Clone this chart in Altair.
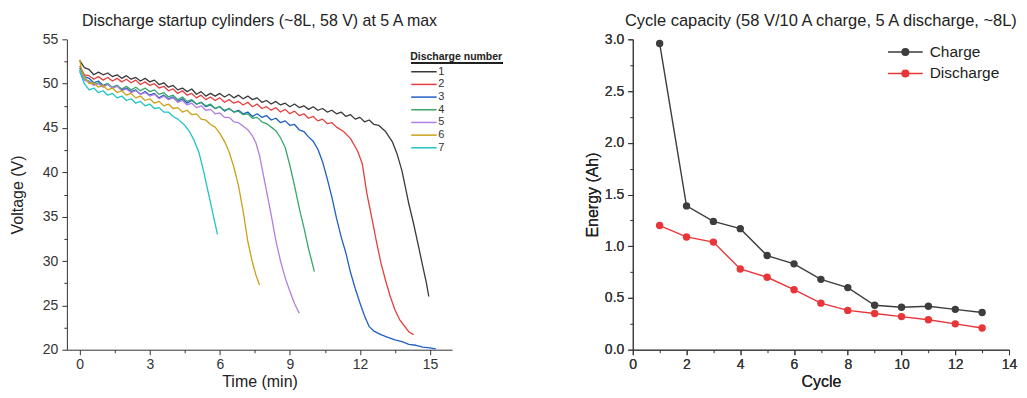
import altair as alt
import pandas as pd

FONT = "Liberation Sans"

# ---------------- left panel data: discharge curves ----------------
t1 = [0, 0.2, 0.4, 0.6, 0.8, 1.0, 1.2, 1.4, 1.6, 1.8, 2.0, 2.2, 2.4, 2.6, 2.8, 3.0, 3.2, 3.4, 3.6, 3.8,
      4.0, 4.2, 4.4, 4.6, 4.8, 5.0, 5.2, 5.4, 5.6, 5.8, 6.0, 6.2, 6.4, 6.6, 6.8, 7.0, 7.2, 7.4, 7.6, 7.8,
      8.0, 8.2, 8.4, 8.6, 8.8, 9.0, 9.2, 9.4, 9.6, 9.8, 10.0, 10.2, 10.4, 10.6, 10.8, 11.0, 11.2, 11.4,
      11.6, 11.8, 12.0, 12.2, 12.4, 12.6, 12.8, 13.1, 13.4, 13.6, 13.8, 13.95, 14.1, 14.3, 14.5, 14.7,
      14.85, 14.95]
v1 = [52.6, 51.8, 51.6, 51.0, 51.3, 51.0, 51.2, 50.8, 51.0, 50.6, 50.9, 50.5, 50.7, 50.3, 50.6, 50.2,
      50.4, 49.9, 50.1, 49.6, 49.8, 49.3, 49.5, 49.1, 49.4, 48.8, 49.1, 48.6, 48.9, 48.6, 48.9, 48.5,
      48.8, 48.4, 48.7, 48.3, 48.6, 48.2, 48.4, 47.9, 48.1, 47.7, 48.0, 47.6, 47.8, 47.4, 47.7, 47.3,
      47.5, 47.1, 47.4, 47.0, 47.2, 46.8, 47.0, 46.6, 46.8, 46.3, 46.5, 46.0, 46.2, 45.7, 45.9, 45.4,
      45.3, 44.6, 43.4, 42.0, 40.2, 38.3, 36.4, 34.2, 31.8, 29.3, 27.5, 26.0]

t2 = [0, 0.2, 0.4, 0.6, 0.8, 1.0, 1.2, 1.4, 1.6, 1.8, 2.0, 2.2, 2.4, 2.6, 2.8, 3.0, 3.2, 3.4, 3.6, 3.8,
      4.0, 4.2, 4.4, 4.6, 4.8, 5.0, 5.2, 5.4, 5.6, 5.8, 6.0, 6.2, 6.4, 6.6, 6.8, 7.0, 7.2, 7.4, 7.6, 7.8,
      8.0, 8.2, 8.4, 8.6, 8.8, 9.0, 9.2, 9.4, 9.6, 9.8, 10.0, 10.2, 10.4, 10.6, 10.8, 11.0, 11.3, 11.6,
      11.9, 12.1, 12.3, 12.5, 12.7, 12.9, 13.1, 13.3, 13.5, 13.7, 13.9, 14.1, 14.3]
v2 = [52.0, 51.0, 50.9, 50.5, 50.8, 50.4, 50.7, 50.3, 50.6, 50.2, 50.5, 50.1, 50.4, 49.9, 50.2, 49.8,
      50.0, 49.5, 49.7, 49.2, 49.4, 48.9, 49.2, 48.7, 48.9, 48.4, 48.7, 48.2, 48.5, 48.1, 48.4, 47.9,
      48.2, 47.8, 48.0, 47.6, 47.9, 47.4, 47.7, 47.2, 47.4, 47.0, 47.3, 46.8, 47.1, 46.6, 46.9, 46.4,
      46.6, 46.1, 46.3, 45.8, 46.0, 45.5, 45.6, 45.1, 44.6, 43.8, 42.4, 41.0, 37.6, 35.0, 32.3, 29.8,
      27.8, 26.0, 24.5, 23.4, 22.7, 22.0, 21.7]

t3 = [0, 0.2, 0.4, 0.6, 0.8, 1.0, 1.2, 1.4, 1.6, 1.8, 2.0, 2.2, 2.4, 2.6, 2.8, 3.0, 3.2, 3.4, 3.6, 3.8,
      4.0, 4.2, 4.4, 4.6, 4.8, 5.0, 5.2, 5.4, 5.6, 5.8, 6.0, 6.2, 6.4, 6.6, 6.8, 7.0, 7.2, 7.4, 7.6, 7.8,
      8.0, 8.2, 8.4, 8.6, 8.8, 9.0, 9.2, 9.4, 9.6, 9.8, 10.0, 10.2, 10.4, 10.6, 10.8, 11.0, 11.2, 11.4,
      11.6, 11.8, 12.0, 12.2, 12.4, 12.6, 12.9, 13.2, 13.5, 13.8, 14.1, 14.4, 14.7, 15.0, 15.25]
v3 = [51.8, 50.8, 50.6, 50.1, 50.3, 49.8, 50.0, 49.5, 49.8, 49.3, 49.5, 49.1, 49.3, 48.8, 49.1, 48.7,
      48.9, 48.4, 48.7, 48.3, 48.5, 48.0, 48.3, 47.8, 48.1, 47.7, 47.9, 47.4, 47.6, 47.2, 47.4, 46.9,
      47.2, 46.8, 47.0, 46.6, 46.8, 46.3, 46.6, 46.2, 46.4, 45.9, 46.1, 45.6, 45.8, 45.3, 45.4, 44.8,
      44.6, 44.0, 43.5, 42.6, 41.2, 39.3, 37.2, 34.8, 32.7, 30.9, 28.7, 26.9, 25.3, 23.8, 22.6, 22.1,
      21.7, 21.4, 21.1, 20.9, 20.6, 20.5, 20.3, 20.2, 20.1]

t4 = [0, 0.2, 0.4, 0.6, 0.8, 1.0, 1.2, 1.4, 1.6, 1.8, 2.0, 2.2, 2.4, 2.6, 2.8, 3.0, 3.2, 3.4, 3.6, 3.8,
      4.0, 4.2, 4.4, 4.6, 4.8, 5.0, 5.2, 5.4, 5.6, 5.8, 6.0, 6.2, 6.4, 6.6, 6.8, 7.0, 7.2, 7.4, 7.6, 7.8,
      8.0, 8.2, 8.4, 8.6, 8.8, 9.0, 9.2, 9.4, 9.6, 9.8, 10.05]
v4 = [51.4, 50.5, 50.3, 49.9, 50.1, 49.7, 50.0, 49.6, 49.8, 49.4, 49.7, 49.3, 49.6, 49.2, 49.5, 49.1,
      49.3, 48.8, 49.0, 48.5, 48.7, 48.2, 48.5, 48.0, 48.2, 47.7, 47.9, 47.5, 47.7, 47.2, 47.4, 47.0,
      47.2, 46.8, 46.9, 46.5, 46.6, 46.1, 46.2, 45.7, 45.5, 45.1, 44.7, 43.9, 42.8, 40.8, 38.5, 36.0,
      33.8, 31.4, 28.8]

t5 = [0, 0.2, 0.4, 0.6, 0.8, 1.0, 1.2, 1.4, 1.6, 1.8, 2.0, 2.2, 2.4, 2.6, 2.8, 3.0, 3.2, 3.4, 3.6, 3.8,
      4.0, 4.2, 4.4, 4.6, 4.8, 5.0, 5.2, 5.4, 5.6, 5.8, 6.0, 6.2, 6.4, 6.6, 6.8, 7.0, 7.2, 7.4, 7.55,
      7.7, 7.85, 8.0, 8.2, 8.4, 8.6, 8.8, 9.0, 9.2, 9.4]
v5 = [51.3, 50.4, 50.2, 49.8, 50.0, 49.6, 49.9, 49.5, 49.7, 49.2, 49.4, 49.0, 49.2, 48.8, 49.0, 48.6,
      48.8, 48.3, 48.6, 48.2, 48.4, 47.9, 48.1, 47.6, 47.8, 47.3, 47.5, 47.0, 47.1, 46.6, 46.7, 46.2,
      46.2, 45.7, 45.6, 45.2, 44.8, 44.1, 43.3, 41.9, 39.9, 37.9, 35.2, 32.3, 30.0, 28.1, 26.6, 25.2,
      24.1]

t6 = [0, 0.08, 0.2, 0.4, 0.6, 0.8, 1.0, 1.2, 1.4, 1.6, 1.8, 2.0, 2.2, 2.4, 2.6, 2.8, 3.0, 3.2, 3.4,
      3.6, 3.8, 4.0, 4.2, 4.4, 4.6, 4.8, 5.0, 5.2, 5.4, 5.6, 5.8, 6.0, 6.2, 6.4, 6.6, 6.8, 7.0, 7.2,
      7.4, 7.55, 7.7]
v6 = [52.7, 51.5, 50.8, 50.0, 50.1, 49.6, 49.8, 49.3, 49.5, 49.0, 49.2, 48.7, 48.9, 48.4, 48.6, 48.1,
      48.3, 47.8, 48.0, 47.5, 47.7, 47.2, 47.3, 46.8, 47.0, 46.5, 46.6, 46.0, 45.9, 45.4, 45.1, 44.4,
      43.5, 42.3, 40.6, 38.5, 35.6, 32.2, 29.8, 28.4, 27.3]

t7 = [0, 0.08, 0.2, 0.4, 0.6, 0.8, 1.0, 1.2, 1.4, 1.6, 1.8, 2.0, 2.2, 2.4, 2.6, 2.8, 3.0, 3.2, 3.4,
      3.6, 3.8, 4.0, 4.2, 4.5, 4.7, 4.9, 5.1, 5.3, 5.5, 5.7, 5.8, 5.9]
v7 = [51.6, 50.8, 50.0, 49.3, 49.5, 49.0, 49.2, 48.7, 48.9, 48.4, 48.6, 48.1, 48.3, 47.8, 48.0, 47.5,
      47.7, 47.2, 47.3, 46.8, 46.8, 46.3, 46.0, 45.3, 44.6, 43.6, 42.3, 40.2, 37.8, 35.4, 34.2, 33.0]

discharge_names = ["1", "2", "3", "4", "5", "6", "7"]
discharge_colors = ["#3a3a3a", "#e5403d", "#1f5fc4", "#3aa66b", "#b27ee0", "#c9a21a", "#1fc3c6"]

# ---------------- right panel data: cycle capacity ----------------
cycles = [1, 2, 3, 4, 5, 6, 7, 8, 9, 10, 11, 12, 13]
charge_ah = [2.96, 1.39, 1.24, 1.17, 0.91, 0.83, 0.68, 0.60, 0.43, 0.41, 0.42, 0.39, 0.36]
discharge_ah = [1.20, 1.09, 1.04, 0.78, 0.70, 0.58, 0.45, 0.38, 0.35, 0.32, 0.29, 0.25, 0.21]
series_names = ["Charge", "Discharge"]
series_colors = ["#3d3d3d", "#e8353a"]

# tick values
lx_major = [0, 3, 6, 9, 12, 15]
lx_minor = [1.5, 4.5, 7.5, 10.5, 13.5]
ly_major = [20, 25, 30, 35, 40, 45, 50, 55]
ly_minor = [22.5, 27.5, 32.5, 37.5, 42.5, 47.5, 52.5]
rx_major = [0, 2, 4, 6, 8, 10, 12, 14]
rx_minor = [1, 3, 5, 7, 9, 11, 13]
ry_major = [0, 0.5, 1.0, 1.5, 2.0, 2.5, 3.0]
ry_minor = [0.25, 0.75, 1.25, 1.75, 2.25, 2.75]

# ---------------- build tables ----------------
rows = []
for name, ts, vs in zip(discharge_names, [t1, t2, t3, t4, t5, t6, t7], [v1, v2, v3, v4, v5, v6, v7]):
    for i, (t, v) in enumerate(zip(ts, vs)):
        rows.append({"Discharge number": name, "t": t, "V": v, "i": i})
df_left = pd.DataFrame(rows)

rows = []
for name, vals in zip(series_names, [charge_ah, discharge_ah]):
    for c, v in zip(cycles, vals):
        rows.append({"series": name, "cycle": c, "ah": v})
df_right = pd.DataFrame(rows)

AX = "#333333"


def major_axis(title, values, fmt, orient, title_pad, label_pad, label_size=14, title_size=16):
    return alt.Axis(
        title=title, values=values, format=fmt, orient=orient,
        tickSize=5, tickColor=AX, domainColor=AX, labelColor=AX, titleColor="#222222",
        grid=False, labelFont=FONT, titleFont=FONT, labelFontSize=label_size,
        titleFontSize=title_size, titleFontWeight="normal", labelPadding=label_pad,
        titlePadding=title_pad, labelFlush=False, labelOverlap=False,
    )


def minor_axis(values, orient):
    return alt.Axis(
        title=None, values=values, orient=orient, labels=False, domain=False,
        tickSize=3, tickColor=AX, grid=False,
    )


WL, WR, H = 386, 377, 311

# ---------------- left chart ----------------
lxs = alt.Scale(domain=[-0.55, 15.95], nice=False, zero=False)
lys = alt.Scale(domain=[20, 55], nice=False, zero=False)
left_lines = alt.Chart(df_left).mark_line(strokeWidth=1.3, strokeJoin="round").encode(
    x=alt.X("t:Q", scale=lxs, axis=major_axis("Time (min)", lx_major, ".0f", "bottom", 2, 3)),
    y=alt.Y("V:Q", scale=lys, axis=major_axis("Voltage (V)", ly_major, ".0f", "left", 17, 4)),
    color=alt.Color("Discharge number:N",
                    scale=alt.Scale(domain=discharge_names, range=discharge_colors),
                    legend=alt.Legend(
                        orient="none", legendX=344, legendY=13, padding=0,
                        title="Discharge number", titleFont=FONT, titleFontSize=10.5,
                        titleFontWeight="bold", titleColor="#222222", titlePadding=3,
                        labelFont=FONT, labelFontSize=11, labelColor="#333333",
                        symbolType="M-1,0H4.1", symbolSize=100, symbolStrokeWidth=1.5,
                        labelOffset=16, rowPadding=1.7,
                    )),
    order="i:Q",
)
left_minor = alt.Chart(df_left).mark_point(opacity=0).encode(
    x=alt.X("t:Q", scale=lxs, axis=minor_axis(lx_minor, "bottom")),
    y=alt.Y("V:Q", scale=lys, axis=minor_axis(ly_minor, "left")),
)
underline = alt.Chart(df_left).mark_rule(color="#222222", strokeWidth=1).encode(
    x=alt.value(345), x2=alt.value(436), y=alt.value(23.5)
)
left = alt.layer(left_lines, left_minor, underline).resolve_axis(
    x="independent", y="independent"
).properties(
    width=WL, height=H,
    title=alt.TitleParams("Discharge startup cylinders (~8L, 58 V) at 5 A max",
                          font=FONT, fontSize=16, fontWeight="normal", color="#222222",
                          anchor="middle", frame="group", offset=3),
)

# ---------------- right chart ----------------
rxs = alt.Scale(domain=[0, 14], nice=False, zero=False)
rys = alt.Scale(domain=[0, 3], nice=False, zero=False)
xr = alt.X("cycle:Q", scale=rxs, axis=major_axis("Cycle", rx_major, ".0f", "bottom", 2, 3))
yr = alt.Y("ah:Q", scale=rys, axis=major_axis("Energy (Ah)", ry_major, ".1f", "left", 4, 4))
cscale = alt.Scale(domain=series_names, range=series_colors)
dot = ("M1.35,0A0.55,0.55 0 1,0 2.45,0A0.55,0.55 0 1,0 1.35,0"
       "M1.6,0A0.3,0.3 0 1,0 2.2,0A0.3,0.3 0 1,0 1.6,0"
       "M1.82,0A0.08,0.08 0 1,0 1.98,0A0.08,0.08 0 1,0 1.82,0")
right_lines = alt.Chart(df_right).mark_line(strokeWidth=1.4).encode(
    x=xr, y=yr,
    color=alt.Color("series:N", scale=cscale,
                    legend=alt.Legend(
                        orient="none", legendX=254, legendY=5, padding=0, title=None,
                        labelFont=FONT, labelFontSize=15.5, labelColor="#222222",
                        symbolType="M-1,0H4.8" + dot, symbolSize=144, symbolStrokeWidth=1.5,
                        labelOffset=28, rowPadding=4.5,
                    )),
)
right_pts = alt.Chart(df_right).mark_point(filled=True, size=55, opacity=1).encode(
    x=xr, y=yr,
    color=alt.Color("series:N", scale=cscale, legend=None),
)
right_minor = alt.Chart(df_right).mark_point(opacity=0).encode(
    x=alt.X("cycle:Q", scale=rxs, axis=minor_axis(rx_minor, "bottom")),
    y=alt.Y("ah:Q", scale=rys, axis=minor_axis(ry_minor, "left")),
)
right = alt.layer(right_lines, right_pts, right_minor).resolve_axis(
    x="independent", y="independent"
).properties(
    width=WR, height=H,
    title=alt.TitleParams("Cycle capacity (58 V/10 A charge, 5 A discharge, ~8L)",
                          font=FONT, fontSize=16.5, fontWeight="normal", color="#222222",
                          anchor="middle", frame="group", offset=3),
)

chart = alt.hconcat(left, right, spacing=181, bounds="flush").resolve_scale(
    color="independent"
).resolve_legend(color="independent").properties(
    padding={"left": 1, "top": 4, "right": 0, "bottom": 0},
    background="white",
).configure_view(stroke=None)

chart.save("out.html", embed_options={"renderer": "svg", "actions": False})
